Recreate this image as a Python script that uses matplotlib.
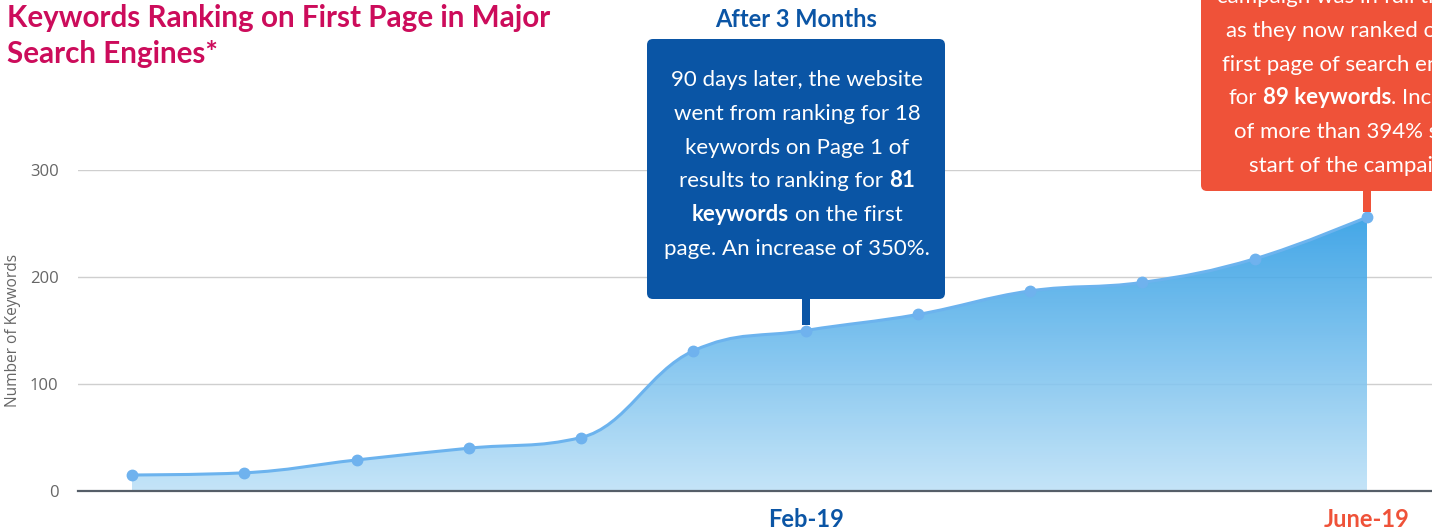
import numpy as np
import matplotlib
matplotlib.use("Agg")
import matplotlib.pyplot as plt
from matplotlib.path import Path
from matplotlib.patches import PathPatch, FancyBboxPatch, Rectangle
from matplotlib.colors import LinearSegmentedColormap
from matplotlib.transforms import IdentityTransform

# data
periods = list(range(12))
keywords = [15, 17, 29, 40, 50, 131, 150, 165, 187, 195, 217, 256]
y_ticks = [0, 100, 200, 300]
label_pos = [6, 11]
label_text = ["Feb-19", "June-19"]

W, H = 1432, 529
FONT = "Lato"
BLUE = "#0b55a5"
RED = "#ef5239"
PINK = "#cc0c5b"


def spline(xs, ys, smoothing=1.5):
    # highcharts-style spline control points
    n = len(xs)
    denom = smoothing + 1
    lc = [(xs[i], ys[i]) for i in range(n)]
    rc = [(xs[i], ys[i]) for i in range(n)]
    for i in range(1, n - 1):
        px, py = xs[i], ys[i]
        lx, ly = xs[i - 1], ys[i - 1]
        nx, ny = xs[i + 1], ys[i + 1]
        lcx = (smoothing * px + lx) / denom
        lcy = (smoothing * py + ly) / denom
        rcx = (smoothing * px + nx) / denom
        rcy = (smoothing * py + ny) / denom
        corr = (rcy - lcy) * (rcx - px) / (rcx - lcx) + py - rcy
        lcy += corr
        rcy += corr
        if lcy > ly and lcy > py:
            lcy = max(ly, py)
            rcy = 2 * py - lcy
        elif lcy < ly and lcy < py:
            lcy = min(ly, py)
            rcy = 2 * py - lcy
        if rcy > ny and rcy > py:
            rcy = max(ny, py)
            lcy = 2 * py - rcy
        elif rcy < ny and rcy < py:
            rcy = min(ny, py)
            lcy = 2 * py - rcy
        lc[i] = (lcx, lcy)
        rc[i] = (rcx, rcy)
    verts = [(xs[0], ys[0])]
    codes = [Path.MOVETO]
    for i in range(1, n):
        verts += [rc[i - 1], lc[i], (xs[i], ys[i])]
        codes += [Path.CURVE4] * 3
    return verts, codes


fig = plt.figure(figsize=(W / 100, H / 100), dpi=100)
ax = fig.add_axes([78 / W, 38 / H, 1 - 78 / W, (491 - 170) / H])

verts, codes = spline(periods, keywords)

# gradient area
area = Path(verts + [(periods[-1], 0), (periods[0], 0), (periods[0], keywords[0])],
            codes + [Path.LINETO, Path.LINETO, Path.CLOSEPOLY])
area_patch = PathPatch(area, facecolor="none", edgecolor="none")
ax.add_patch(area_patch)
cmap = LinearSegmentedColormap.from_list("area", ["#bde1f7", "#2a9be4"])
grad = np.linspace(0, 1, 256).reshape(-1, 1)
im = ax.imshow(grad, extent=[periods[0], periods[-1], 0, max(keywords)], origin="lower",
               aspect="auto", cmap=cmap, alpha=0.88, zorder=1)
im.set_clip_path(area_patch)

ax.add_patch(PathPatch(Path(verts, codes), facecolor="none", edgecolor="#6cb3ee", lw=2.2, zorder=3))
ax.plot(periods, keywords, "o", color="#6fb2ee", ms=7.5, zorder=4, clip_on=False)

ax.set_xlim(-0.481, 11.579)
ax.set_ylim(0, 300)
ax.set_yticks(y_ticks)
ax.set_yticklabels([str(v) for v in y_ticks], family="Open Sans", fontsize=12, color="#666666")
ax.tick_params(axis="y", length=0, pad=14)
ax.grid(axis="y", color="#cfcfcf", lw=1, zorder=0)
ax.set_axisbelow(True)
ax.set_xticks(label_pos)
ax.set_xticklabels(label_text, family=FONT, fontsize=17, fontweight="bold")
for lab, col in zip(ax.get_xticklabels(), [BLUE, RED]):
    lab.set_color(col)
ax.tick_params(axis="x", length=0, pad=12)
for s in ["top", "right", "left"]:
    ax.spines[s].set_visible(False)
ax.spines["bottom"].set_color("#555e68")
ax.spines["bottom"].set_linewidth(1.6)
ax.spines["bottom"].set_zorder(5)
ax.set_ylabel("Number of Keywords", family="Open Sans", fontsize=11.2, color="#666666")
ax.yaxis.set_label_coords(21 / W, (529 - 330) / H, transform=fig.transFigure)

# title
for txt, base in [("Keywords Ranking on First Page in Major", 27), ("Search Engines*", 63)]:
    fig.text(7 / W, 1 - base / H, txt, family=FONT, fontweight="bold", fontsize=21.3,
             color=PINK, va="baseline")

idt = IdentityTransform()
renderer = fig.canvas.get_renderer()


def text_width(s, bold, size):
    w = "bold" if bold else "normal"
    t1 = fig.text(0, 0, "|" + s + "|", family=FONT, fontweight=w, fontsize=size)
    t2 = fig.text(0, 0, "||", family=FONT, fontweight=w, fontsize=size)
    d = t1.get_window_extent(renderer).width - t2.get_window_extent(renderer).width
    t1.remove()
    t2.remove()
    return d


def rich_line(cx, base, runs, size=16, color="white"):
    widths = [text_width(s, b, size) for s, b in runs]
    x = cx - sum(widths) / 2
    for (s, b), w in zip(runs, widths):
        lead = len(s) - len(s.lstrip())
        off = text_width(s[:lead], b, size) if lead else 0
        fig.text(x + off, H - base, s.strip(), transform=idt, family=FONT,
                 fontweight="bold" if b else "normal", fontsize=size, color=color,
                 ha="left", va="baseline", zorder=10)
        x += w


# blue callout
fig.patches.append(FancyBboxPatch((647, H - 299), 298, 260, boxstyle="round,pad=0,rounding_size=6",
                                  transform=idt, facecolor="#0a55a5", edgecolor="none", zorder=6))
fig.patches.append(Rectangle((802, H - 325), 8, 27, transform=idt, facecolor="#0a55a5",
                             edgecolor="none", zorder=6))
fig.text(796, H - 27, "After 3 Months", transform=idt, family=FONT, fontweight="bold",
         fontsize=17, color=BLUE, ha="center", va="baseline")
blue_lines = [
    [("90 days later, the website", False)],
    [("went from ranking for 18", False)],
    [("keywords on Page 1 of", False)],
    [("results to ranking for ", False), ("81", True)],
    [("keywords", True), (" on the first", False)],
    [("page. An increase of 350%.", False)],
]
for i, runs in enumerate(blue_lines):
    rich_line(797, 86 + i * 33.8, runs)

# red callout
fig.patches.append(FancyBboxPatch((1201, H - 191), 340, 260, boxstyle="round,pad=0,rounding_size=6",
                                  transform=idt, facecolor=RED, edgecolor="none", zorder=6))
fig.patches.append(Rectangle((1363, H - 212), 8, 22, transform=idt, facecolor=RED,
                             edgecolor="none", zorder=6))
red_lines = [
    [("campaign was in full throttle", False)],
    [("as they now ranked on the", False)],
    [("first page of search engines", False)],
    [("for ", False), ("89 keywords", True), (". Increase", False)],
    [("of more than 394% since", False)],
    [("start of the campaign.", False)],
]
for i, runs in enumerate(red_lines):
    rich_line(1356, 3 + i * 33.8, runs)

fig.savefig("out.png", dpi=100)
